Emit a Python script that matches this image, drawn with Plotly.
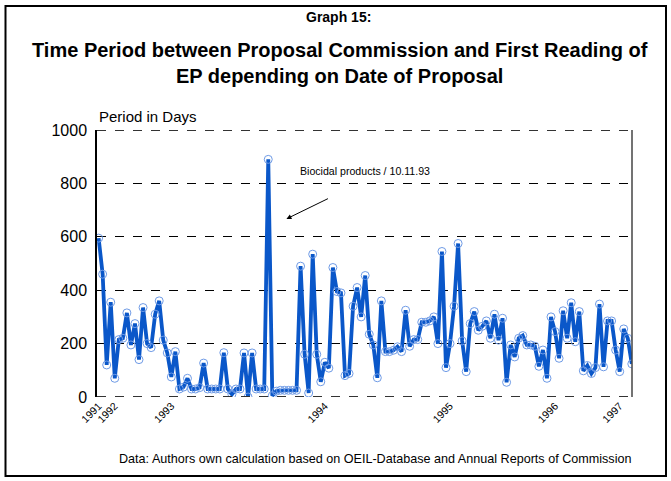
import plotly.graph_objects as go

# Period in days between Commission proposal and EP first reading, per proposal (in date order)
days = [595, 460, 120, 355, 70, 215, 220, 315, 195, 275, 140, 335, 200, 185, 310, 360, 213,
        165, 75, 170, 30, 37, 70, 30, 30, 35, 127, 30, 30, 30, 30, 166, 30, 10, 30, 30, 165,
        0, 165, 30, 30, 30, 890, 5, 22, 25, 25, 25, 25, 25, 490, 160, 15, 535, 160, 57, 130,
        108, 485, 395, 390, 80, 88, 340, 410, 300, 455, 235, 195, 72, 360, 170, 170, 175, 188,
        170, 325, 190, 215, 215, 280, 280, 285, 300, 200, 545, 110, 200, 340, 575, 210, 95,
        275, 320, 250, 265, 285, 220, 310, 213, 295, 55, 195, 150, 220, 230, 195, 195, 190,
        115, 176, 70, 300, 245, 145, 323, 220, 353, 207, 320, 98, 118, 88, 110, 348, 113, 285,
        285, 176, 95, 255, 220, 124]
idx = list(range(len(days)))

year_labels = ["1991", "1992", "1993", "1994", "1995", "1996", "1997"]
year_first_index = [0, 4, 18, 56, 87, 113, 129]
y_ticks = [0, 200, 400, 600, 800, 1000]

FONT = "Liberation Sans, Arial, sans-serif"

fig = go.Figure()
fig.add_trace(go.Scatter(
    x=idx, y=days, mode="lines+markers",
    line=dict(color="#0a57c9", width=3.8),
    marker=dict(symbol="circle", size=8, color="rgba(255,255,255,0)",
                line=dict(color="#6f9be6", width=1)),
    showlegend=False, hoverinfo="y"))

fig.update_layout(
    width=671, height=481,
    margin=dict(l=97, r=39, t=130, b=84),
    paper_bgcolor="white", plot_bgcolor="white",
    font=dict(family=FONT, color="black"),
    xaxis=dict(range=[-0.4, len(days) - 1 + 0.05], tickmode="array",
               tickvals=year_first_index, ticktext=year_labels, tickangle=-45,
               tickfont=dict(size=10.5), showgrid=False, zeroline=False,
               showline=False, ticks=""),
    yaxis=dict(range=[0, 1000], tickmode="array", tickvals=y_ticks,
               tickfont=dict(size=16), showgrid=True, gridcolor="black",
               griddash="dash", gridwidth=1, zeroline=False, ticklabelstandoff=5,
               showline=True, linecolor="black", linewidth=1.5, ticks="", ticklen=0),
)

def px_x(p):
    return (p - 97) / 535

def px_y(p):
    return (397 - p) / 267

# right frame line
fig.add_shape(type="line", xref="paper", yref="paper", x0=1, x1=1, y0=0, y1=1,
              line=dict(color="#444", width=1.5))
# dashed top and bottom frame lines
for yv in (y_ticks[0], y_ticks[-1]):
    fig.add_shape(type="line", xref="paper", yref="y", x0=0, x1=1, y0=yv, y1=yv,
                  line=dict(color="#333", width=2, dash="dash"))

# outer border
fig.add_shape(type="rect", xref="paper", yref="paper",
              x0=px_x(5.5), x1=px_x(666), y0=px_y(476), y1=px_y(6),
              line=dict(color="black", width=2), fillcolor="rgba(0,0,0,0)")

fig.add_annotation(xref="paper", yref="paper", x=px_x(338), y=px_y(17),
                   text="<b>Graph 15:</b>", showarrow=False, font=dict(size=14),
                   xanchor="center", yanchor="middle")
fig.add_annotation(xref="paper", yref="paper", x=px_x(340), y=px_y(63),
                   text="<b>Time Period between Proposal Commission and First Reading of<br>EP depending on Date of Proposal</b>",
                   showarrow=False, font=dict(size=20), xanchor="center", yanchor="middle",
                   align="center")
fig.add_annotation(xref="paper", yref="paper", x=0, y=px_y(116),
                   text="Period in Days", showarrow=False, font=dict(size=15),
                   xanchor="left", yanchor="middle")
fig.add_annotation(xref="paper", yref="paper", x=px_x(298), y=px_y(171),
                   text="Biocidal products / 10.11.93", showarrow=False, font=dict(size=10.6),
                   xanchor="left", yanchor="middle")
fig.add_annotation(x=46.5, y=667, xref="x", yref="y", text="", showarrow=True,
                   arrowhead=2, arrowsize=1, arrowwidth=1, arrowcolor="black",
                   ax=43, ay=-21)
fig.add_annotation(xref="paper", yref="paper", x=px_x(633), y=px_y(459),
                   text="Data: Authors own calculation based on OEIL-Database and Annual Reports of Commission",
                   showarrow=False, font=dict(size=12.6), xanchor="right", yanchor="middle")

fig.write_html("out.html", config={"displayModeBar": False},
               post_script="document.body.style.margin='0px';")
